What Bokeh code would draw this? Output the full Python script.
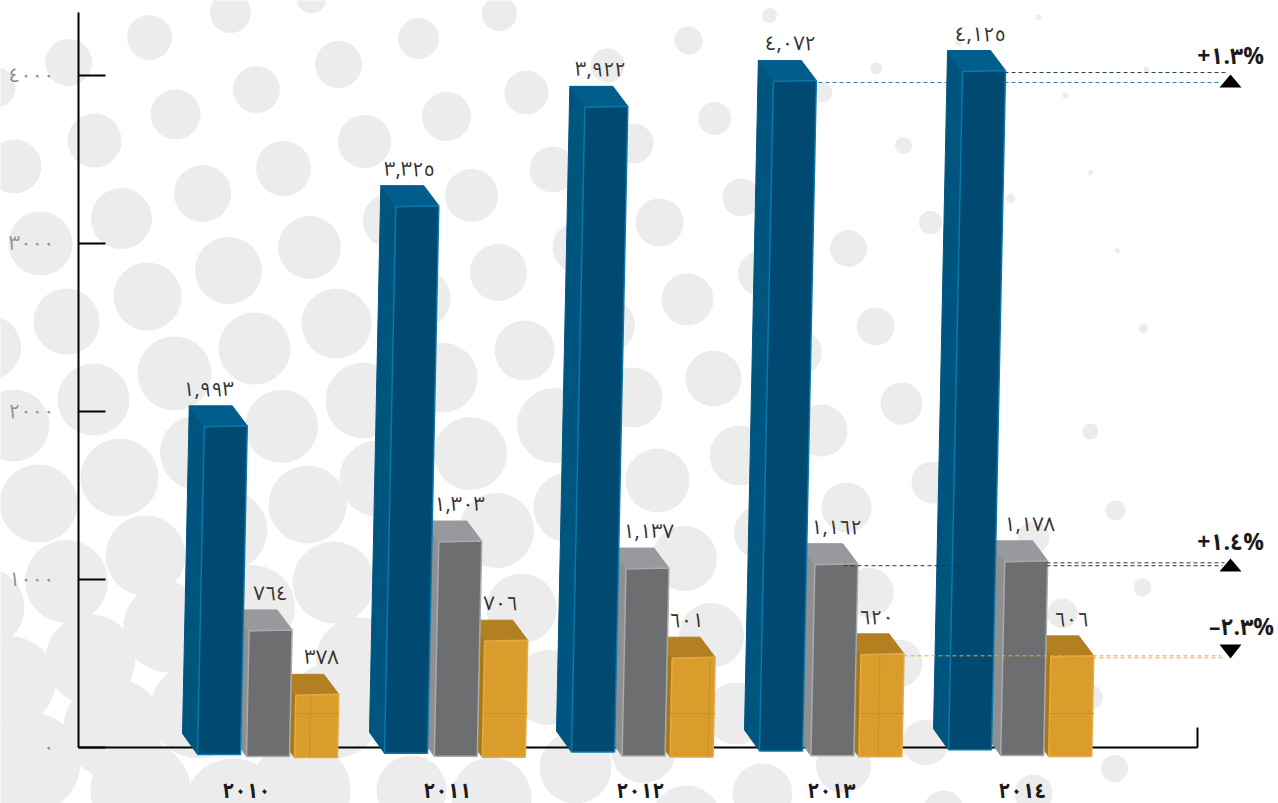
from bokeh.plotting import figure
from bokeh.models import Range1d, LinearAxis, FixedTicker
from bokeh.core.properties import value
from bokeh.embed import file_html
from bokeh.resources import INLINE

# ---- data
years = ["٢٠١٠", "٢٠١١", "٢٠١٢", "٢٠١٣", "٢٠١٤"]
blue_values = [1993, 3325, 3922, 4072, 4125]
grey_values = [764, 1303, 1137, 1162, 1178]
orange_values = [378, 706, 601, 620, 606]
blue_labels = ["١,٩٩٣", "٣,٣٢٥", "٣,٩٢٢", "٤,٠٧٢", "٤,١٢٥"]
grey_labels = ["٧٦٤", "١,٣٠٣", "١,١٣٧", "١,١٦٢", "١,١٧٨"]
orange_labels = ["٣٧٨", "٧٠٦", "٦٠١", "٦٢٠", "٦٠٦"]
y_ticks = [0, 1000, 2000, 3000, 4000]
y_tick_labels = ["٠", "١٠٠٠", "٢٠٠٠", "٣٠٠٠", "٤٠٠٠"]
change_labels = ["+١.٣%", "+١.٤%", "–٢.٣%"]

# background dots: x, y, diameter in page pixels
dot_x = [68,149,230,311,-5,94,175,256,338,14,121,202,283,364,40,228,309,147,66,-12,174,254,336,363,93,13,281,197,119,38,307,377,145,227,66,-16,333,252,358,168,90,10,197,113,30,140,233,333,300,
 499,418,688,769,607,526,446,714,633,552,471,390,741,659,577,498,420,687,760,607,524,442,713,797,632,
 470,554,496,568,657,739,821,901,932,846,761,684,868,521,711,548,898,736,925,643,843,575,491,762,686,943,411,
 876,958,1038,903,985,1065,930,1010,1090,848,1117,875,1143,901,1090,1115,1033,1142,1062,1114,1090,1033,1146,822,956]
dot_y = [62,37,12,-2,87,140,114,89,64,166,218,193,168,141,243,270,247,296,321,347,373,348,323,400,399,425,426,452,477,503,504,478,555,530,581,607,582,607,659,627,659,681,710,728,762,790,808,710,790,
 13,38,40,15,65,92,116,118,143,169,195,220,197,222,247,272,298,299,273,325,350,377,378,352,397,
 453,425,530,507,480,455,430,403,482,507,532,558,592,608,635,687,663,713,742,750,765,767,797,793,820,810,790,
 68,42,17,145,120,95,222,198,172,248,250,326,328,404,431,510,537,587,613,768,697,793,69,92,300]
dot_d = [47,45,41,30,40,54,50,47,47,54,61,57,55,53,64,67,63,68,66,65,74,72,70,76,72,72,73,75,78,78,78,76,80,80,83,80,82,85,85,90,90,90,95,100,100,100,100,96,100,
 35,41,28,15,34,44,49,33,40,46,53,55,38,48,50,57,60,52,45,55,60,70,56,48,60,
 73,75,75,70,64,60,52,42,42,50,55,65,50,70,65,75,48,62,46,65,55,72,80,60,70,40,70,
 12,7,6,17,7,6,23,9,5,37,5,38,9,40,16,20,32,18,30,27,25,38,6,20,20]

# ---- layout constants (page pixels)
W, H = 1278, 803
PX = 1 / 0.168                 # value units per pixel
AXIS_PX_Y = 747
BAR_W = 43
DEPTH_X, DEPTH_Y = -15, 21 * PX
FRONT_K = 0.1644 / 0.168       # perspective shortening of the front face
LEAN = 0.0034
group_x = [197, 384, 571, 759, 948]
series_dx = [0, 49, 97]
series_spread = [0, 0.8, 0.8]
base_px = [(7, -1.2), (9, -0.25), (10, -0.25)]   # base below axis, drift per group
label_x = [[208, 409, 600, 790, 980], [270, 459, 648, 836, 1029], [321, 500, 686, 876, 1071]]
year_x = [246, 447, 640, 831, 1022]
seam_dx = [15, None, 38, 19, None]
FONT = "Noto Sans Arabic"
YEAR_FONT = "Noto Sans, Noto Sans Arabic"
palette = [
    dict(front="#004a72", top="#005d8c", side="#00557f", edge="#0a78aa"),
    dict(front="#6d6e70", top="#98999c", side="#8e8f92", edge="#a9aaad"),
    dict(front="#da9c2a", top="#b28020", side="#a87818", edge="#e3ab48"),
]
SEAM_PX = 713

p = figure(width=W, height=H, output_backend="svg", toolbar_location=None,
           x_range=Range1d(0, W),
           y_range=Range1d(-(H - AXIS_PX_Y) * PX, AXIS_PX_Y * PX),
           x_axis_type=None, y_axis_type=None, min_border=0,
           background_fill_color="#ffffff", border_fill_color=None, outline_line_color=None,
           styles={"position": "absolute", "left": "0px", "top": "0px"})
p.grid.visible = False


def v(px):
    return (AXIS_PX_Y - px) * PX


p.scatter(dot_x, [v(y) for y in dot_y], size=dot_d, marker="circle",
          fill_color="#ececec", line_color=None, level="image")

# ---- real axes, placed inside the frame
yax = LinearAxis(fixed_location=78, ticker=FixedTicker(ticks=y_ticks),
                 major_label_overrides=dict(zip(y_ticks, y_tick_labels)),
                 bounds=(0, (AXIS_PX_Y - 12) * PX),
                 major_tick_in=27, major_tick_out=0, minor_tick_line_color=None,
                 axis_line_color="#000000", axis_line_width=2,
                 major_tick_line_color="#000000", major_tick_line_width=2,
                 major_label_standoff=24, major_label_text_color="#8f9093",
                 major_label_text_font=FONT, major_label_text_font_size="20px",
                 level="underlay")
p.add_layout(yax, "left")
xax = LinearAxis(fixed_location=0, ticker=FixedTicker(ticks=[1197]),
                 major_label_overrides={1197: ""}, bounds=(78, 1197),
                 major_tick_in=20, major_tick_out=0, minor_tick_line_color=None,
                 axis_line_color="#000000", axis_line_width=2,
                 major_tick_line_color="#000000", major_tick_line_width=2,
                 level="underlay")
p.add_layout(xax, "below")


def bar_geometry(g, s, val):
    x0 = group_x[g] + series_dx[s] + series_spread[s] * g
    base = v(AXIS_PX_Y + base_px[s][0] + base_px[s][1] * g)
    top = base + val * FRONT_K
    lean = val * LEAN
    return x0, x0 + BAR_W, base, top, lean


def draw_bar(g, s, val):
    c = palette[s]
    x0, x1, base, top, lean = bar_geometry(g, s, val)
    # left side face
    p.patch([x0, x0 + lean, x0 + lean + DEPTH_X, x0 + DEPTH_X],
            [base, top, top + DEPTH_Y, base + DEPTH_Y],
            fill_color=c["side"], line_color=c["side"], line_width=1)
    # top face
    p.patch([x0 + lean, x1 + lean, x1 + lean + DEPTH_X, x0 + lean + DEPTH_X],
            [top, top + 1 * PX, top + DEPTH_Y, top + DEPTH_Y],
            fill_color=c["top"], line_color=c["top"], line_width=1)
    # front face
    p.patch([x0, x1, x1 + lean, x0 + lean],
            [base, base, top + 1 * PX, top],
            fill_color=c["front"], line_color=c["edge"], line_width=1.5)
    if s == 2:
        p.line([x0, x1 + lean], [v(SEAM_PX), v(SEAM_PX)], line_color="#c8902a", line_width=1)
        if seam_dx[g] is not None:
            p.line([x0 + seam_dx[g], x0 + seam_dx[g] + lean], [base, top],
                   line_color="#c8902a", line_width=1)


series = [blue_values, grey_values, orange_values]
for g in range(5):
    for s in (2, 1, 0):
        draw_bar(g, s, series[s][g])

# value labels
label_sets = [blue_labels, grey_labels, orange_labels]
for s in range(3):
    xs, ys = [], []
    for g in range(5):
        x0, x1, base, top, lean = bar_geometry(g, s, series[s][g])
        xs.append(label_x[s][g])
        ys.append(top + DEPTH_Y + 16 * PX)
    p.text(xs, ys, text=label_sets[s], text_align="center", text_baseline="middle",
           text_color="#333333", text_font=value(FONT), text_font_size="20px")

# year labels
p.text(year_x, [v(789)] * 5, text=years, text_align="center", text_baseline="middle",
       text_color="#1a1a1a", text_font=value(YEAR_FONT), text_font_style="bold",
       text_font_size="21px")


# dashed reference lines, derived from the same bar tops
def top_of(g, s):
    return bar_geometry(g, s, series[s][g])[3] - 1 * PX


def dash(x_a, x_b, y, color):
    p.line([x_a, x_b], [y, y], line_color=color, line_width=1, line_dash="4 3")


dash(818, 946, top_of(3, 0), "#2a7fa3")
dash(1004, 1220, top_of(3, 0), "#2a7fa3")
dash(1004, 1228, top_of(4, 0), "#1d3f52")
dash(843, 996, top_of(3, 1), "#333333")
dash(1046, 1222, top_of(3, 1), "#333333")
dash(1046, 1224, top_of(4, 1), "#333333")
dash(903, 1220, top_of(3, 2), "#e8a93a")
dash(1092, 1222, top_of(4, 2), "#e8a93a")


# change markers: flat triangles, wider than Bokeh's built-in marker
def arrow(cx, tip_px, base_px_y):
    p.patch([cx - 11, cx + 11, cx], [v(base_px_y), v(base_px_y), v(tip_px)],
            fill_color="#000000", line_color=None)


arrow(1230, 74, 87)
arrow(1230, 558, 571)
arrow(1230, 658, 644)
p.text([1230, 1230, 1241], [v(56), v(542), v(627)], text=change_labels, text_align="center",
       text_baseline="middle", text_color="#1a1a1a", text_font=value(FONT),
       text_font_style="bold", text_font_size="23px")

open("out.html", "w").write(file_html(p, INLINE))
